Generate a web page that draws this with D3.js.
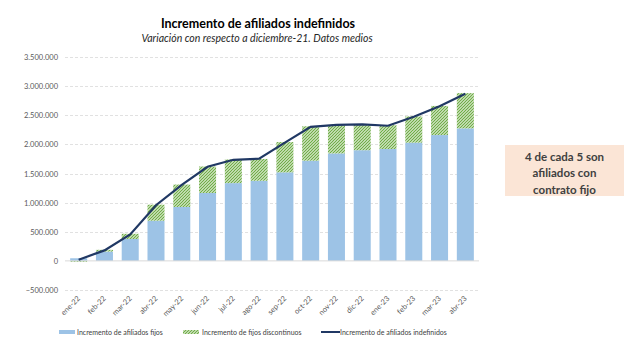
<!DOCTYPE html>
<html>
<head>
<meta charset="utf-8">
<script src="https://cdn.jsdelivr.net/npm/d3@7"></script>
<style>
  body { margin: 0; background: #fff; }
  svg { display: block; font-family: Lato, "Open Sans", sans-serif; }
</style>
</head>
<body>
<script>
// datos
const meses = ['ene-22', 'feb-22', 'mar-22', 'abr-22', 'may-22', 'jun-22', 'jul-22', 'ago-22', 'sep-22',
  'oct-22', 'nov-22', 'dic-22', 'ene-23', 'feb-23', 'mar-23', 'abr-23'];
const fijos = [45000, 160000, 375000, 690000, 925000, 1165000, 1335000, 1375000, 1520000,
  1720000, 1845000, 1900000, 1920000, 2030000, 2160000, 2275000];
const discontinuos = [-15000, 30000, 90000, 275000, 385000, 455000, 405000, 375000, 520000,
  590000, 485000, 440000, 410000, 450000, 500000, 605000];
const indefinidos = [20000, 180000, 455000, 955000, 1305000, 1615000, 1735000, 1755000, 2030000,
  2300000, 2335000, 2345000, 2320000, 2475000, 2655000, 2870000];
const yTicks = [-500000, 0, 500000, 1000000, 1500000, 2000000, 2500000, 3000000, 3500000];

const width = 638, height = 353;
const margin = { left: 65, right: 159, top: 57, bottom: 63 };

const svg = d3.select('body').append('svg').attr('width', width).attr('height', height);

// trama diagonal verde
const pat = svg.append('defs').append('pattern')
  .attr('id', 'hatch')
  .attr('patternUnits', 'userSpaceOnUse')
  .attr('width', 3).attr('height', 3);
pat.append('rect').attr('width', 3).attr('height', 3).attr('fill', '#fff');
pat.append('path').attr('d', 'M-1,1 L1,-1 M0,3 L3,0 M2,4 L4,2')
  .attr('stroke', '#70AD47').attr('stroke-width', 1.3);

const x = d3.scaleBand().domain(meses).range([margin.left, width - margin.right]).paddingInner(0.34).paddingOuter(0.2);
const y = d3.scaleLinear().domain([-500000, 3500000]).range([height - margin.bottom, margin.top]);

const fmt = v => d3.format(',')(v).replace(/,/g, '.');

// rejilla
svg.append('g').selectAll('line').data(yTicks.filter(d => d !== 0)).enter().append('line')
  .attr('x1', margin.left).attr('x2', width - margin.right)
  .attr('y1', d => Math.round(y(d)) + 0.5).attr('y2', d => Math.round(y(d)) + 0.5)
  .attr('stroke', '#D9D9D9').attr('stroke-dasharray', '3,2').attr('stroke-width', 0.8);

// eje y
svg.append('g').selectAll('text').data(yTicks).enter().append('text')
  .attr('x', 58).attr('y', d => y(d) + 3)
  .attr('text-anchor', 'end').attr('font-size', 7.5).attr('fill', '#595959')
  .text(d => fmt(d));

// barras fijos
svg.append('g').selectAll('rect').data(meses).enter().append('rect')
  .attr('x', d => x(d)).attr('width', x.bandwidth())
  .attr('y', (d, i) => y(Math.max(0, fijos[i])))
  .attr('height', (d, i) => Math.abs(y(fijos[i]) - y(0)))
  .attr('fill', '#9DC3E6');

// barras discontinuos (apiladas)
svg.append('g').selectAll('rect').data(meses).enter().append('rect')
  .attr('x', d => x(d)).attr('width', x.bandwidth())
  .attr('y', (d, i) => discontinuos[i] >= 0 ? y(fijos[i] + discontinuos[i]) : y(0))
  .attr('height', (d, i) => discontinuos[i] >= 0 ? y(fijos[i]) - y(fijos[i] + discontinuos[i]) : y(discontinuos[i]) - y(0))
  .attr('fill', 'url(#hatch)');

// linea del cero
svg.append('line')
  .attr('x1', margin.left).attr('x2', width - margin.right)
  .attr('y1', y(0)).attr('y2', y(0))
  .attr('stroke', '#D9D9D9').attr('stroke-width', 1);

// linea indefinidos
const line = d3.line().x((d, i) => x(meses[i]) + x.bandwidth() / 2).y(d => y(d));
svg.append('path').datum(indefinidos)
  .attr('d', line).attr('fill', 'none')
  .attr('stroke', '#203864').attr('stroke-width', 2.2);

// etiquetas eje x
svg.append('g').selectAll('text').data(meses).enter().append('text')
  .attr('transform', d => `translate(${x(d) + x.bandwidth() / 2 + 2},${y(-500000) + 9}) rotate(-45)`)
  .attr('text-anchor', 'end').attr('font-size', 7.5).attr('fill', '#595959')
  .text(d => d);

// titulo
svg.append('text').attr('x', 258).attr('y', 28).attr('text-anchor', 'middle')
  .attr('font-size', 12.5).attr('font-weight', 'bold').attr('fill', '#000')
  .text('Incremento de afiliados indefinidos');
svg.append('text').attr('x', 257).attr('y', 42).attr('text-anchor', 'middle')
  .attr('font-size', 10.5).attr('font-style', 'italic').attr('fill', '#262626')
  .text('Variación con respecto a diciembre-21. Datos medios');

// leyenda
const lg = svg.append('g').attr('font-size', 7).attr('fill', '#404040');
lg.append('rect').attr('x', 59).attr('y', 330).attr('width', 16).attr('height', 4).attr('fill', '#9DC3E6');
lg.append('text').attr('x', 77).attr('y', 334.5).text('Incremento de afiliados fijos');
lg.append('rect').attr('x', 183).attr('y', 330).attr('width', 16).attr('height', 4).attr('fill', 'url(#hatch)');
lg.append('text').attr('x', 202).attr('y', 334.5).text('Incremento de fijos discontinuos');
lg.append('line').attr('x1', 321).attr('x2', 340).attr('y1', 332).attr('y2', 332)
  .attr('stroke', '#203864').attr('stroke-width', 2);
lg.append('text').attr('x', 340).attr('y', 334.5).text('Incremento de afiliados indefinidos');

// recuadro
svg.append('rect').attr('x', 505).attr('y', 145).attr('width', 119).attr('height', 51).attr('fill', '#FBE5D6');
const box = svg.append('text').attr('text-anchor', 'middle').attr('font-size', 11.5).attr('font-weight', 'bold').attr('fill', '#404040');
['4 de cada 5 son', 'afiliados con', 'contrato fijo'].forEach((t, i) => {
  box.append('tspan').attr('x', 564.5).attr('y', 160.5 + i * 16.5).text(t);
});
</script>
</body>
</html>
